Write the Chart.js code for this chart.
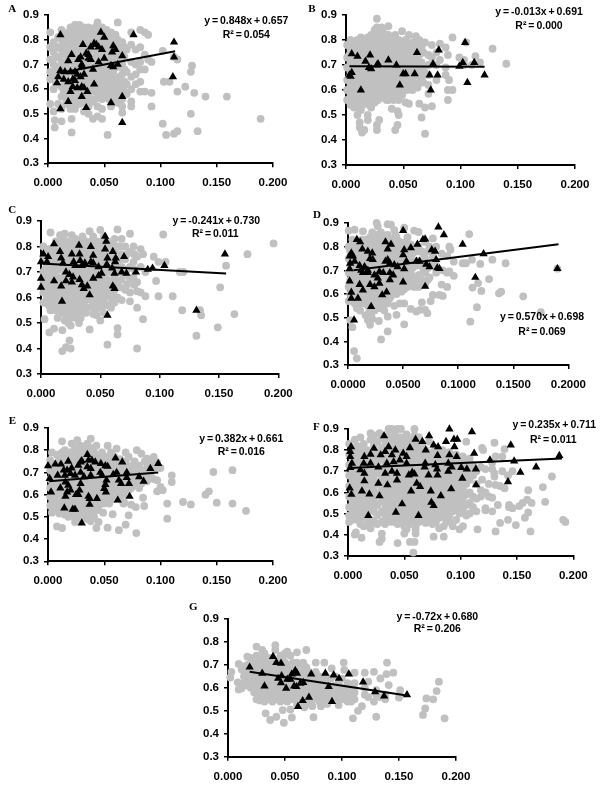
<!DOCTYPE html>
<html>
<head>
<meta charset="utf-8">
<title>Scatter panels A-G</title>
<script src="https://cdn.jsdelivr.net/npm/chart.js@4"></script>
<style>
  html, body { margin: 0; padding: 0; background: #fff; }
  body { position: relative; width: 600px; height: 787px; overflow: hidden; }
  canvas { position: absolute; }
</style>
</head>
<body>
<script>
const yTickLabels = ['0.3', '0.4', '0.5', '0.6', '0.7', '0.8', '0.9'];
const xTickLabels = ['0.000', '0.050', '0.100', '0.150', '0.200'];
const xTickLabelsD = ['0.0000', '0.0500', '0.1000', '0.1500', '0.2000'];

// grey rows: x first, then every y read at about that x
const greyA = [
  [.002,.83,.77,.72,.67,.64,.54],[.005,.79,.75,.70,.66,.60,.51],[.006,.475,.445],[.009,.81,.77,.73,.68,.65,.54],
  [.012,.84,.80,.76,.71,.66,.61,.57,.52,.47],[.016,.82,.78,.74,.70,.65,.60,.56,.54],[.020,.85,.81,.77,.72,.68,.63,.59,.55,.52],
  [.021,.48,.425],[.024,.86,.82,.78,.73,.69,.64,.60,.56,.52],[.028,.86,.83,.79,.75,.71,.66,.62,.58,.54],
  [.032,.85,.81,.77,.73,.68,.64,.60,.56,.51],[.036,.85,.82,.78,.74,.70,.65,.61,.57,.53,.50],[.040,.84,.80,.76,.72,.67,.63,.59,.55,.48],
  [.044,.87,.83,.79,.75,.71,.66,.62,.58,.53,.49],[.048,.85,.81,.77,.73,.68,.64,.60,.56,.52,.48],[.052,.84,.80,.76,.71,.67,.62,.58],
  [.053,.415],[.056,.83,.79,.75,.70,.65,.61,.57,.53],[.060,.82,.78,.74,.69,.64,.60,.55],[.062,.87,.80,.72,.63,.58,.545],
  [.066,.79,.75,.70,.66,.61,.56,.53,.505],[.070,.76,.67,.62,.58],[.074,.83,.78,.71,.65,.60,.55,.53],[.078,.76,.70,.66,.62],
  [.082,.84,.77,.71,.68,.63,.59],[.086,.83,.74,.68,.59],[.089,.82,.72],[.092,.71,.585,.53],[.102,.755,.46],[.103,.63],[.105,.415],
  [.108,.63],[.112,.73,.42],[.115,.72,.59,.43],[.122,.61],[.127,.67,.50],[.128,.695],[.13,.585],[.133,.43],[.14,.57],[.159,.57],[.189,.48],
  [.007,.77,.73,.69,.66,.62],[.014,.82,.78,.74,.69,.64,.59],[.018,.83,.80,.76,.72,.67,.62,.58],[.022,.84,.80,.755,.71,.665,.62,.58,.54],
  [.026,.84,.80,.76,.71,.67,.62,.58,.54],[.030,.84,.80,.76,.72,.69,.65,.60,.56],[.034,.83,.79,.75,.71,.66,.62,.58,.54],[.038,.83,.80,.76,.72,.675,.63,.59,.55],
  [.042,.85,.81,.77,.73,.69,.65,.60,.56],[.046,.83,.79,.75,.71,.66,.62,.58],[.050,.82,.79,.74,.69,.65,.61,.57],[.054,.82,.78,.73,.68,.63,.59,.56],
  [.058,.80,.76,.71,.67,.62,.58],[.063,.77,.69,.65,.60],[.068,.77,.73,.68,.63,.59]
];
const triA = [
  [.011,.82],[.047,.83],[.05,.81],[.076,.82],[.031,.78],[.041,.785],[.038,.77],[.043,.78],[.045,.77],[.048,.76],[.058,.775],[.06,.76],
  [.057,.75],[.112,.79],[.112,.73],[.111,.65],[.036,.74],[.034,.745],[.036,.725],[.038,.72],[.021,.74],[.018,.715],[.027,.72],[.029,.73],
  [.03,.70],[.045,.71],[.05,.725],[.066,.735],[.056,.695],[.058,.69],[.062,.70],[.03,.69],[.04,.68],[.011,.675],[.009,.65],[.015,.67],
  [.02,.67],[.024,.67],[.026,.66],[.032,.66],[.029,.65],[.014,.64],[.018,.63],[.022,.64],[.024,.635],[.008,.625],[.022,.61],[.026,.605],
  [.03,.61],[.032,.605],[.035,.59],[.02,.59],[.041,.62],[.018,.55],[.03,.57],[.011,.52],[.034,.525],[.056,.545],[.066,.57],[.066,.465]
];
const fitA = [[.01,.665],[.113,.753]];

const greyB = [
  [.001,.78,.73,.69,.64,.60,.56],[.004,.80,.76,.71,.67,.62,.58,.54],[.007,.79,.75,.70,.65,.61,.57,.53],[.010,.80,.76,.72,.68,.63,.59,.55,.50],
  [.012,.47,.45],[.013,.81,.77,.73,.69,.64,.60,.56,.52],[.014,.43],[.016,.79,.75,.71,.66,.62,.58,.44],[.019,.81,.77,.73,.68,.64,.60,.56,.50,.48],
  [.022,.82,.78,.74,.70,.65,.61,.57,.53],[.025,.84,.80,.76,.71,.67,.63,.59,.55],[.027,.885,.85,.46,.44],[.028,.82,.78,.73,.69,.65,.60,.56],
  [.029,.48],[.031,.85,.81,.77,.72,.68,.63,.59,.57],[.034,.80,.76,.71,.66,.62,.58],[.037,.855,.82,.78,.74,.69,.64,.60,.56],
  [.040,.80,.76,.71,.67,.62,.58,.525],[.043,.82,.78,.73,.69,.64,.60,.44],[.045,.515,.46],[.046,.80,.75,.71,.66,.61,.56,.50],
  [.049,.835,.78,.73,.68,.63,.58],[.052,.80,.75,.70,.65,.61,.55],[.055,.82,.77,.72,.67,.62,.545],[.058,.79,.74,.69,.64,.60],
  [.061,.815,.76,.71,.66,.61],[.064,.80,.74,.68,.63,.545],[.066,.77,.71,.65,.49],[.069,.79,.67,.53,.425],[.072,.74,.70,.66,.62,.585],
  [.075,.78,.73,.535],[.079,.75,.70,.64],[.082,.785,.72],[.087,.77,.69,.66],[.089,.74,.60,.56],[.09,.64],[.093,.81,.60],[.099,.73],
  [.103,.70,.72],[.105,.79],[.11,.70],[.113,.735],[.117,.71],[.128,.765],[.14,.705],
  [.003,.78,.74,.69,.65,.60,.56],[.0055,.77,.73,.68,.63,.59,.55],[.0085,.77,.72,.68,.63,.59,.55],[.0115,.78,.74,.70,.66,.61,.57,.53],
  [.0145,.79,.75,.71,.67,.62,.58,.54],[.0175,.80,.77,.73,.68,.64,.60,.56],[.0205,.79,.75,.71,.67,.62,.58,.54],[.0235,.80,.76,.72,.68,.63,.59,.55],
  [.0265,.82,.78,.74,.69,.65,.61,.57],[.0295,.80,.76,.71,.67,.63,.58],[.0325,.83,.79,.74,.70,.65,.61,.57],[.0355,.82,.78,.74,.69,.64,.60,.56],
  [.0385,.80,.76,.72,.67,.62,.58],[.0415,.78,.74,.69,.65,.60,.56],[.0445,.80,.76,.71,.67,.62,.58],[.0475,.78,.73,.69,.64,.60],[.0505,.76,.71,.66,.61],
  [.0535,.78,.73,.68,.63,.60],[.0565,.75,.70,.65,.61],[.0595,.77,.72,.67,.62],[.0625,.78,.72,.66,.61],[.0675,.75,.69,.63]
];
const triB = [
  [.005,.745],[.01,.735],[.021,.74],[.017,.715],[.037,.72],[.062,.75],[.081,.76],[.104,.79],[.028,.705],[.027,.70],[.044,.70],[.076,.705],
  [.102,.71],[.112,.71],[.099,.695],[.02,.69],[.022,.685],[.005,.67],[.003,.66],[.004,.655],[.05,.665],[.052,.665],[.06,.665],[.073,.66],
  [.08,.66],[.121,.66],[.047,.62],[.013,.60],[.074,.60],[.106,.63]
];
const fitB = [[.003,.695],[.121,.693]];

const greyC = [
  [.002,.80,.75,.70,.66,.62,.58],[.003,.515],[.005,.78,.73,.68,.64,.60],[.007,.463],[.008,.855,.77,.72,.67,.63,.59,.55],[.011,.80,.75,.70,.65,.61,.57,.478],
  [.014,.78,.73,.68,.64,.60,.56,.52],[.016,.845,.81,.76,.71,.66,.62,.58,.54],[.018,.39,.472],[.02,.85,.79,.74,.69,.65,.60,.56,.51],[.021,.405],
  [.023,.82,.77,.72,.68,.63,.59,.55,.50],[.024,.432],[.025,.40,.49],[.026,.845,.79,.74,.69,.65,.61,.57,.53],[.029,.83,.78,.73,.68,.64,.60,.56,.52],
  [.032,.80,.76,.71,.67,.62,.58,.54,.50],[.035,.84,.78,.73,.69,.65,.60,.56],[.038,.82,.77,.72,.68,.63,.59,.54],[.041,.86,.80,.75,.70,.66,.61,.475],
  [.044,.84,.78,.73,.69,.64,.60,.57,.535],[.047,.82,.77,.71,.67,.62,.58,.53],[.05,.865,.80,.75,.70,.65,.60,.56,.51],[.053,.84,.79,.74,.69,.64,.59,.54],
  [.056,.82,.77,.72,.67,.62,.57,.415],[.059,.80,.75,.70,.65,.60,.56],[.062,.83,.78,.73,.68,.63,.58],[.0645,.867,.80,.75,.70,.66,.60,.455,.48],
  [.068,.83,.77,.72,.67,.59],[.071,.80,.75,.69,.63],[.075,.85,.78,.72,.67,.62,.585],[.078,.80,.74,.68],[.081,.76,.66,.625,.56,.40],[.084,.79,.72,.62],
  [.086,.77,.515],[.088,.605,.70],[.095,.76],[.097,.665],[.099,.74,.605],[.103,.847],[.105,.74],[.111,.605],[.117,.70],[.119,.55],[.12,.70],
  [.131,.45],[.134,.55],[.135,.53],[.149,.483],[.151,.64],[.156,.725],[.163,.535],[.174,.77],[.196,.812],
  [.0035,.76,.71,.66,.62,.58],[.0065,.79,.75,.70,.66,.62,.57],[.0095,.78,.73,.68,.64,.60,.56],[.0125,.82,.77,.72,.67,.63,.59,.55],[.0155,.76,.71,.66,.62,.58,.54],
  [.0185,.83,.77,.72,.67,.63,.58,.54],[.0215,.81,.76,.71,.67,.62,.58,.53],[.0245,.80,.75,.70,.66,.61,.57,.52],[.0275,.81,.76,.71,.66,.62,.58,.54],
  [.0305,.82,.78,.73,.69,.64,.60,.55],[.0335,.82,.78,.74,.69,.64,.60,.56,.52],[.0365,.80,.75,.70,.66,.62,.58],[.0395,.79,.74,.70,.65,.61,.56],
  [.0425,.82,.77,.72,.68,.63,.59],[.0455,.80,.75,.71,.66,.62,.58,.55],[.0485,.79,.74,.69,.64,.60,.56],[.0515,.82,.77,.72,.67,.62,.58],
  [.0545,.80,.75,.70,.65,.61,.57],[.0605,.81,.76,.71,.66,.62,.58],[.0665,.80,.75,.70,.64],[.0725,.77,.71,.65],[.0785,.77,.71,.65]
];
const triC = [
  [.002,.77],[.006,.76],[.005,.74],[.011,.81],[.016,.78],[.017,.755],[.0185,.735],[.032,.805],[.0325,.77],[.026,.77],[.042,.80],[.054,.84],
  [.055,.82],[.054,.79],[.0605,.78],[.044,.765],[.056,.755],[.063,.755],[.0625,.74],[.07,.76],[.033,.745],[.0275,.74],[.029,.725],[.0345,.725],
  [.037,.735],[.042,.74],[.044,.735],[.0485,.72],[.0555,.73],[.06,.715],[.062,.695],[.068,.70],[.072,.695],[.08,.70],[.09,.71],[.094,.715],
  [.104,.725],[.021,.70],[.024,.69],[.027,.68],[.021,.665],[.026,.66],[.011,.665],[.017,.645],[.0325,.67],[.0345,.65],[.036,.635],[.039,.645],
  [.041,.61],[.044,.675],[.0485,.685],[.051,.695],[.0605,.645],[.062,.635],[.0177,.585],[.056,.53],[.131,.55],[.155,.77],[0,.675],[0,.64],[0,.74]
];
const fitC = [[0,.733],[.156,.694]];

const greyD = [
  [.0006,.868,.80,.75,.69,.63,.57],[.002,.49,.78,.72,.66,.60],[.004,.83,.76,.70,.64,.58,.46],[.0055,.359],[.006,.872,.81,.74,.68,.62,.56],[.008,.328,.78,.72,.66,.60,.54],
  [.011,.82,.76,.70,.64,.58,.53],[.0136,.865,.80,.74,.68,.62,.56],[.016,.83,.77,.71,.65,.59,.51],[.018,.79,.73,.67,.61,.55,.49],[.02,.84,.78,.72,.66,.60,.54,.47],
  [.022,.86,.80,.74,.68,.62,.56,.495],[.024,.83,.77,.71,.65,.59,.53],[.026,.90,.85,.79,.73,.67,.61,.55],[.027,.886,.81,.75,.69,.63,.57],[.028,.486],[.03,.86,.80,.74,.68,.62,.56,.408],
  [.033,.83,.77,.71,.65,.59,.53],[.036,.895,.85,.79,.73,.67,.61,.56,.505,.442],[.039,.893,.83,.77,.71,.65,.59],[.042,.87,.81,.75,.69,.63,.55],[.044,.84,.78,.72,.66,.60,.512],
  [.047,.82,.76,.70,.64,.56],[.051,.88,.80,.74,.68,.62,.56,.472],[.054,.84,.78,.72,.66,.63],[.057,.81,.75,.69,.64,.537],[.06,.868,.79,.73,.67,.63],
  [.062,.526],[.064,.862,.80,.74,.68,.63],[.0655,.533],[.067,.78,.72,.66,.565],[.07,.82,.75,.69,.64,.533],[.072,.519],[.074,.80,.73,.67],[.075,.57],[.077,.835,.76,.596],
  [.08,.80,.72,.69],[.083,.596],[.085,.77,.64],[.086,.70,.592],[.09,.76,.69,.63],[.092,.80,.695],[.093,.787],[.096,.737,.677],[.104,.73],[.107,.73],[.11,.853],[.111,.483],
  [.1125,.745],[.113,.627],[.117,.544],[.118,.646],[.12,.727],[.121,.613],[.128,.663],[.131,.745],[.137,.603],[.139,.61],[.143,.73],[.159,.59],[.175,.523],[.19,.707],
  [.003,.80,.75,.69,.63,.58],[.007,.80,.75,.69,.63,.57],[.0095,.79,.73,.67,.61,.56],[.0125,.83,.77,.71,.65,.59],[.015,.81,.75,.69,.63,.57],[.019,.81,.75,.70,.64,.58,.52],
  [.021,.81,.75,.69,.63,.57,.51],[.023,.83,.77,.71,.65,.59,.54],[.025,.80,.74,.68,.62,.56],[.0285,.84,.78,.72,.66,.60,.54],[.0315,.83,.77,.71,.65,.59],[.0345,.80,.74,.68,.62,.56],
  [.0375,.82,.76,.70,.64,.58],[.0405,.80,.74,.68,.62],[.043,.85,.79,.73,.67,.61],[.0455,.81,.75,.69,.63],[.0485,.79,.73,.67,.61],[.0525,.82,.76,.70,.64],[.0555,.80,.74,.68,.64],
  [.0585,.77,.71,.65],[.0625,.78,.72,.66],[.0685,.77,.70,.65],[.0725,.78,.71,.66]
];
const triD = [
  [.05,.868],[.082,.883],[.087,.85],[.104,.81],[.034,.82],[.008,.83],[.011,.82],[.013,.79],[.068,.83],[.07,.832],[.063,.81],[.057,.795],[.051,.787],[.05,.765],[.039,.81],
  [.036,.79],[.076,.787],[.079,.78],[.018,.78],[.022,.773],[.02,.75],[.003,.773],[.0045,.76],[.0015,.76],[.006,.738],[.002,.73],[.0225,.745],[.053,.738],[.062,.738],[.065,.738],
  [.08,.745],[.123,.77],[.034,.738],[.036,.745],[.038,.73],[.042,.723],[.045,.715],[.071,.725],[.074,.715],[.081,.71],[.083,.707],[.051,.706],[.0105,.72],[.015,.715],[.0015,.706],
  [.012,.70],[.018,.70],[.0135,.69],[.018,.69],[.0285,.695],[.032,.69],[.024,.68],[.038,.69],[.041,.68],[.027,.667],[.038,.66],[.0015,.655],[.05,.65],[.0105,.64],[.02,.64],
  [.024,.63],[.0135,.617],[.07,.632],[.0285,.645],[.035,.608],[.031,.596],[.003,.607],[.003,.582],[.009,.582],[.021,.547],[.0055,.49],[.1155,.67],[.19,.707]
];
const fitD = [[.005,.70],[.191,.81]];

const greyE = [
  [.002,.755,.71,.67,.63,.59,.55],[.0035,.79,.519],[.006,.74,.70,.66,.62,.58,.54],[.008,.78,.457],[.01,.76,.72,.68,.64,.60,.56,.515],[.0125,.84,.79,.74,.70,.66,.62,.57,.53,.45],
  [.015,.80,.75,.71,.67,.63,.59,.55,.51],[.018,.77,.73,.69,.65,.61,.57,.53,.50],[.021,.83,.79,.74,.70,.66,.62,.58,.54,.505],[.024,.81,.76,.72,.68,.64,.60,.56,.52,.477],
  [.026,.845,.79,.74,.70,.66,.62,.58,.54,.50],[.029,.82,.77,.73,.69,.65,.61,.57,.53,.49],[.032,.79,.75,.71,.67,.63,.59,.55,.51],[.035,.83,.77,.73,.69,.65,.61,.57,.53,.49],
  [.038,.852,.81,.76,.72,.68,.64,.60,.56,.52,.48],[.041,.79,.74,.70,.66,.62,.58,.54,.50],[.043,.82,.77,.73,.69,.65,.61,.57,.53,.45],[.045,.75,.71,.67,.63,.59,.55,.477],
  [.048,.79,.74,.70,.66,.62,.58],[.049,.519],[.051,.77,.72,.68,.64,.60],[.053,.82,.75,.70,.66,.62,.58,.4515],[.056,.79,.73,.68,.64,.60],[.0575,.512],[.059,.77,.71,.67,.62,.58],
  [.061,.807,.74,.69,.65,.60],[.063,.44],[.064,.76,.71,.66,.62,.58],[.067,.73,.68,.64,.60,.56],[.068,.564],[.069,.79,.75,.465],[.0717,.77,.70,.66,.62,.507],[.074,.72,.68,.63,.555],
  [.077,.75,.70,.65],[.078,.544],[.0785,.427],[.079,.80,.67],[.081,.73,.68,.63],[.083,.784,.71,.65],[.0845,.586],[.0855,.549],[.086,.75,.69],[.088,.762,.72,.66],[.091,.74,.69],
  [.094,.77,.72,.67],[.097,.745,.665,.615],[.1,.72,.635],[.102,.62],[.106,.56,.492],[.11,.687,.657],[.12,.567],[.127,.556],[.14,.60],[.143,.615],[.147,.702],[.15,.564],[.164,.71,.56],[.176,.527],
  [.004,.73,.69,.65,.61,.57],[.008,.72,.68,.64,.60,.56],[.0115,.77,.72,.68,.64,.60,.55],[.0135,.77,.72,.68,.64,.60,.55,.52],[.0165,.78,.73,.69,.65,.61,.57,.53],
  [.0195,.79,.75,.71,.67,.63,.59,.55,.51],[.0225,.77,.72,.68,.64,.60,.56,.52],[.025,.80,.76,.72,.68,.64,.60,.56,.52],[.0275,.78,.72,.68,.64,.60,.56,.52],
  [.0305,.80,.75,.71,.67,.63,.59,.55,.51],[.0335,.81,.77,.73,.69,.65,.61,.57,.53,.50],[.0365,.79,.75,.71,.67,.63,.59,.55,.51],[.0395,.77,.72,.68,.64,.60,.56,.52],
  [.0445,.77,.73,.69,.65,.61,.57,.53],[.0495,.77,.72,.68,.64,.60,.56],[.0545,.77,.72,.68,.64,.60,.56],[.0605,.75,.69,.65,.60],[.0655,.75,.70,.66,.62],[.0705,.73,.67,.63],[.0755,.73,.68,.64]
];
const triE = [
  [.035,.78],[.06,.765],[.066,.747],[.098,.74],[.091,.717],[.018,.75],[.0065,.737],[.0115,.737],[0,.73],[.029,.747],[.03,.752],[.027,.732],[.036,.755],[.039,.755],[.042,.747],
  [.047,.74],[.051,.73],[.053,.727],[.035,.725],[.038,.717],[.021,.72],[.017,.71],[.014,.71],[.0086,.687],[.0015,.672],[.015,.687],[.02,.695],[.024,.687],[.029,.70],[.032,.68],
  [.038,.687],[.0465,.70],[.048,.687],[.058,.69],[.061,.70],[.07,.70],[.07,.677],[.081,.68],[.085,.66],[.063,.665],[.065,.65],[.072,.65],[.052,.665],[.051,.645],[.05,.627],
  [.0515,.612],[.011,.63],[.0027,.612],[.0155,.657],[.018,.642],[.02,.62],[.017,.612],[.0155,.592],[.029,.65],[.028,.62],[.027,.60],[.025,.60],[.036,.592],[.037,.582],[.037,.556],
  [.0435,.582],[.062,.575],[.0725,.592],[.0145,.54],[.022,.534],[.024,.534],[.03,.472]
];
const fitE = [[.001,.66],[.098,.70]];

const greyF = [
  [.001,.83,.78,.73,.68,.63,.58,.53,.49,.46],[.004,.81,.76,.71,.66,.61,.56,.51,.47],[.006,.40,.85,.79,.74,.69,.64,.59,.54,.49],[.007,.41],[.008,.82,.77,.72,.67,.62,.57,.52,.47],
  [.011,.86,.80,.75,.70,.65,.60,.55,.50,.45],[.012,.385],[.014,.83,.78,.73,.68,.63,.58,.53,.48,.44],[.017,.80,.75,.70,.65,.60,.55,.50,.45],[.02,.88,.85,.78,.73,.68,.63,.58,.53,.47,.43],
  [.023,.87,.82,.76,.71,.66,.61,.56,.51,.46],[.026,.84,.79,.74,.69,.64,.59,.54,.49,.45],[.028,.88,.365],[.03,.86,.81,.76,.71,.66,.61,.56,.51,.46,.405,.38],[.033,.84,.79,.74,.69,.64,.59,.54,.49,.45],
  [.036,.90,.87,.82,.77,.72,.67,.62,.57,.52,.47],[.039,.90,.85,.80,.75,.70,.65,.60,.55,.50,.46],[.042,.87,.82,.77,.72,.67,.62,.57,.52,.47],[.044,.90,.84,.79,.74,.69,.64,.59,.54,.49,.45,.36],
  [.047,.90,.86,.81,.76,.71,.66,.61,.56,.51,.46],[.05,.84,.79,.74,.69,.64,.59,.54,.49,.44,.405],[.052,.875,.82,.77,.72,.67,.62,.57,.52,.47,.425],[.055,.85,.80,.75,.70,.65,.60,.55,.50,.45,.365],
  [.058,.82,.77,.72,.67,.62,.57,.52,.47,.315],[.059,.90,.87,.365],[.06,.84,.79,.74,.69,.64,.59,.54,.49,.44,.405,.425],[.063,.86,.81,.76,.71,.66,.61,.56,.51,.46],
  [.066,.83,.78,.73,.68,.63,.58,.53,.48],[.069,.80,.75,.70,.65,.60,.55,.50,.455],[.072,.84,.77,.72,.67,.62,.57,.52,.47],[.075,.79,.74,.69,.64,.59,.54,.49,.45],[.076,.39],
  [.078,.81,.76,.71,.66,.61,.56,.51,.46],[.081,.78,.73,.68,.63,.58,.53,.48,.43],[.084,.80,.75,.70,.65,.60,.55,.50],[.085,.39,.44],[.087,.77,.72,.67,.62,.57,.52,.47],
  [.09,.79,.74,.69,.64,.59,.54,.49,.46],[.093,.76,.71,.66,.61,.56,.51,.44],[.096,.78,.73,.68,.63,.58,.53,.47],[.099,.75,.70,.65,.60,.55,.50,.425],[.102,.77,.72,.67,.62,.57,.52,.44],
  [.105,.84,.74,.69,.64,.59,.54,.49],[.108,.76,.71,.66,.60,.55,.50],[.111,.73,.68,.58,.53],[.114,.70,.64,.57,.51],[.115,.425],[.118,.72,.61,.58],[.119,.81,.66],[.12,.80],
  [.122,.71,.60,.525,.515],[.125,.64,.58],[.128,.74,.71,.575,.51],[.13,.835,.69,.675],[.131,.77,.635,.415],[.133,.54],[.135,.455,.63],[.137,.77,.70],[.139,.805,.62],
  [.142,.47,.68],[.143,.53,.54],[.146,.525,.70],[.149,.445],[.152,.535],[.155,.55],[.157,.48],[.159,.565],[.16,.61,.505],[.162,.415],[.163,.55],[.173,.625],[.175,.555],[.181,.675],[.191,.47],[.193,.46]
];
const triF = [
  [.032,.868],[.09,.90],[.11,.887],[.06,.851],[.066,.84],[.072,.868],[.087,.84],[.094,.851],[.097,.851],[.1445,.824],[.0945,.816],[.0027,.816],[.002,.793],[.002,.769],[.023,.808],
  [.036,.816],[.055,.811],[.076,.824],[.08,.816],[.069,.80],[.042,.80],[.033,.793],[.02,.78],[.0145,.769],[.029,.777],[.039,.777],[.049,.785],[.052,.769],[.0795,.774],[.112,.785],
  [.09,.777],[.0965,.769],[.126,.753],[.1475,.748],[.1876,.774],[.0035,.737],[.002,.717],[.014,.737],[.02,.737],[.027,.72],[.0345,.737],[.0405,.745],[.046,.753],[.052,.737],
  [.0685,.737],[.068,.72],[.0775,.73],[.089,.737],[.092,.72],[.1005,.717],[.1055,.71],[.1135,.71],[.167,.72],[.153,.695],[.011,.706],[.0145,.69],[.033,.69],[.039,.70],[.0435,.69],
  [.054,.682],[.057,.695],[.059,.687],[.0715,.682],[.079,.71],[.0795,.682],[.089,.70],[.1015,.666],[.0145,.654],[.0435,.658],[.027,.643],[.035,.635],[.061,.643],[.064,.627],
  [.1137,.635],[.142,.65],[.0124,.606],[.019,.592],[.028,.583],[.003,.59],[.0015,.62],[.056,.606],[.0735,.606],[.0824,.584],[.0916,.616],[.074,.553],[.076,.537],[.048,.545],
  [.0425,.505],[.018,.49],[.0626,.49]
];
const fitF = [[.001,.715],[.19,.76]];

const greyG = [
  [.002,.645],[.003,.67],[.0085,.624],[.0094,.704,.593],[.012,.598,.68],[.014,.693,.65,.62],[.017,.736,.70,.67,.64,.61],[.02,.73,.70,.665,.63,.60],[.023,.72,.69,.66,.63,.60,.58],
  [.025,.78,.74,.70,.67,.64,.61,.58,.55],[.028,.73,.70,.67,.64,.61,.58,.545],[.03,.765,.71,.68,.65,.62,.59,.56],[.032,.75,.72,.69,.66,.63,.60,.57,.54],[.033,.489],
  [.035,.73,.70,.67,.64,.61,.58,.55],[.037,.71,.68,.65,.62,.59,.56,.46],[.039,.73,.70,.67,.64,.61,.58,.54],[.0415,.786,.765,.71,.68,.65,.62,.59,.56],[.0424,.474],
  [.044,.72,.69,.66,.63,.60,.57,.55],[.046,.74,.70,.67,.64,.61,.58,.54],[.048,.73,.68,.65,.62,.59,.56,.503],[.049,.448],[.05,.75,.71,.67,.64,.61,.58,.55],[.052,.758,.70,.66,.63,.60,.57,.54],
  [.0547,.74,.69,.65,.62,.59,.56,.506],[.056,.471],[.057,.71,.68,.64,.61,.58,.55],[.0605,.755,.71,.67,.64,.60,.57,.53],[.063,.70,.66,.62,.59,.56],[.066,.71,.67,.63,.60,.57,.54],
  [.067,.515],[.0687,.765,.69,.65,.61,.58,.55],[.071,.67,.63,.60,.57,.53],[.074,.65,.62,.58,.55,.52],[.075,.472],[.077,.71,.67,.63,.60,.56],[.08,.65,.61,.58,.54],[.0815,.52],
  [.083,.63,.60,.57,.55],[.0845,.71,.65],[.087,.62,.59,.56,.53],[.09,.64,.60,.57],[.091,.685],[.094,.65,.61,.58,.56],[.097,.62,.59,.55,.525],[.1,.64,.60,.57],[.1015,.71],
  [.102,.678,.58,.55],[.105,.62,.59,.56,.54],[.108,.60,.57,.54],[.1096,.467],[.111,.666,.62,.58,.55],[.114,.50],[.1175,.52],[.12,.666,.60,.57],[.123,.627,.56],[.128,.67,.54],
  [.13,.59,.57,.474],[.1336,.641,.56],[.138,.57,.55],[.139,.66],[.1395,.71],[.141,.612],[.145,.666],[.15,.558],[.151,.59],[.171,.482],[.173,.51],[.174,.554],[.18,.55],[.183,.586],[.185,.627],[.19,.467]
];
const triG = [
  [.019,.69],[.03,.663],[.0395,.736],[.0424,.71],[.0465,.707],[.032,.608],[.044,.641],[.047,.652],[.0465,.622],[.051,.598],[.052,.637],[.0547,.637],[.056,.66],[.059,.675],[.0605,.663],
  [.058,.608],[.06,.605],[.0635,.62],[.066,.623],[.0614,.518],[.0655,.544],[.071,.559],[.073,.66],[.0854,.663],[.0927,.656],[.0974,.641],[.106,.66],[.1185,.625],[.0883,.605],
  [.0912,.54],[.129,.583],[.137,.564],[.157,.57]
];
const fitG = [[.019,.67],[.157,.567]];

// page positions of each panel's plot box and its texts
const panels = [
  { letter: 'A', grey: greyA, tri: triA, fit: fitA, xLabels: xTickLabels, box: [47.7, 272.7, 15, 163.3], letterAt: [12, 9],
    eq: 'y = 0.848x + 0.657', eqAt: [246, 21], r2: 'R² = 0.054', r2At: [246, 35] },
  { letter: 'B', grey: greyB, tri: triB, fit: fitB, xLabels: xTickLabels, box: [346, 575, 15, 165], letterAt: [312, 9],
    eq: 'y = -0.013x + 0.691', eqAt: [539, 12], r2: 'R² = 0.000', r2At: [539, 26] },
  { letter: 'C', grey: greyC, tri: triC, fit: fitC, xLabels: xTickLabels, box: [40.7, 278, 221, 374], letterAt: [12, 210],
    eq: 'y = -0.241x + 0.730', eqAt: [216, 221], r2: 'R² = 0.011', r2At: [215, 234] },
  { letter: 'D', grey: greyD, tri: triD, fit: fitD, xLabels: xTickLabelsD, box: [348, 569, 223, 365], letterAt: [317, 215],
    eq: 'y = 0.570x + 0.698', eqAt: [542, 317], r2: 'R² = 0.069', r2At: [542, 332] },
  { letter: 'E', grey: greyE, tri: triE, fit: fitE, xLabels: xTickLabels, box: [47.7, 272.7, 427.7, 561], letterAt: [12, 421],
    eq: 'y = 0.382x + 0.661', eqAt: [241, 439], r2: 'R² = 0.016', r2At: [241, 452] },
  { letter: 'F', grey: greyF, tri: triF, fit: fitF, xLabels: xTickLabels, box: [347.7, 573, 429, 555.7], letterAt: [316, 427],
    eq: 'y = 0.235x + 0.711', eqAt: [554, 425], r2: 'R² = 0.011', r2At: [553, 440] },
  { letter: 'G', grey: greyG, tri: triG, fit: fitG, xLabels: xTickLabels, box: [227.7, 455.7, 619, 756.7], letterAt: [193, 607],
    eq: 'y = -0.72x + 0.680', eqAt: [437, 617], r2: 'R² = 0.206', r2At: [437, 629] },
];

const MARGIN = { left: 48, right: 26, top: 18, bottom: 30 };
const tickFont = { family: '"Liberation Sans", Arial, sans-serif', size: 11.5, weight: 'bold' };

function toPoints(rows) {
  const points = [];
  rows.forEach(row => {
    row.slice(1).forEach(y => points.push({ x: row[0], y: y }));
  });
  return points;
}

function toXY(pairs) {
  return pairs.map(p => ({ x: p[0], y: p[1] }));
}

const panelText = {
  id: 'panelText',
  afterDraw(chart, args, opts) {
    const ctx = chart.ctx;
    const p = opts.panel;
    const dx = p.box[0] - MARGIN.left;
    const dy = p.box[2] - MARGIN.top;
    ctx.save();
    ctx.fillStyle = '#000';
    ctx.textBaseline = 'middle';
    ctx.textAlign = 'center';
    ctx.font = 'bold 10.5px "Liberation Sans", Arial, sans-serif';
    ctx.wordSpacing = '-1px';
    ctx.fillText(p.eq, p.eqAt[0] - dx, p.eqAt[1] - dy);
    ctx.fillText(p.r2, p.r2At[0] - dx, p.r2At[1] - dy);
    ctx.wordSpacing = '0px';
    ctx.font = 'bold 11px "Liberation Serif", "Times New Roman", serif';
    ctx.fillText(p.letter, p.letterAt[0] - dx, p.letterAt[1] - dy);
    ctx.restore();
  },
};

function createPanel(p) {
  const canvas = document.createElement('canvas');
  const plotW = p.box[1] - p.box[0];
  const plotH = p.box[3] - p.box[2];
  canvas.width = Math.round(plotW + MARGIN.left + MARGIN.right);
  canvas.height = Math.round(plotH + MARGIN.top + MARGIN.bottom);
  canvas.style.left = (p.box[0] - MARGIN.left) + 'px';
  canvas.style.top = (p.box[2] - MARGIN.top) + 'px';
  document.body.appendChild(canvas);
  const bottomSpace = canvas.height - MARGIN.top - plotH;

  return new Chart(canvas.getContext('2d'), {
    type: 'scatter',
    data: {
      datasets: [
        { data: toXY(p.fit), showLine: true, borderColor: '#000', borderWidth: 2, pointRadius: 0, order: 1, clip: false },
        { data: toXY(p.tri), pointStyle: 'triangle', pointRadius: 4.8, pointBorderWidth: 0, backgroundColor: '#000', order: 2, clip: false },
        { data: toPoints(p.grey), pointStyle: 'circle', pointRadius: 3.9, pointBorderWidth: 0, backgroundColor: '#c0c0c0', order: 3, clip: false },
      ],
    },
    options: {
      responsive: false,
      animation: false,
      devicePixelRatio: 1,
      layout: { padding: { left: 0, right: canvas.width - MARGIN.left - plotW, top: MARGIN.top, bottom: 0 } },
      plugins: { legend: { display: false }, tooltip: { enabled: false }, panelText: { panel: p } },
      scales: {
        x: {
          type: 'linear', min: 0, max: 0.2,
          afterFit: scale => { scale.height = bottomSpace; },
          border: { color: '#000', width: 2 },
          grid: { drawOnChartArea: false, color: '#000', lineWidth: 1.5, tickLength: 4 },
          ticks: { stepSize: 0.05, color: '#000', font: tickFont, padding: 9, maxRotation: 0, autoSkip: false,
            callback: (value, i) => p.xLabels[i] },
        },
        y: {
          min: 0.3, max: 0.9,
          afterFit: scale => { scale.width = MARGIN.left; },
          border: { color: '#000', width: 2 },
          grid: { drawOnChartArea: false, color: '#000', lineWidth: 1.5, tickLength: 4 },
          ticks: { stepSize: 0.1, color: '#000', font: tickFont, padding: 5, autoSkip: false,
            callback: (value, i) => yTickLabels[i] },
        },
      },
    },
    plugins: [panelText],
  });
}

panels.forEach(createPanel);
</script>
</body>
</html>
